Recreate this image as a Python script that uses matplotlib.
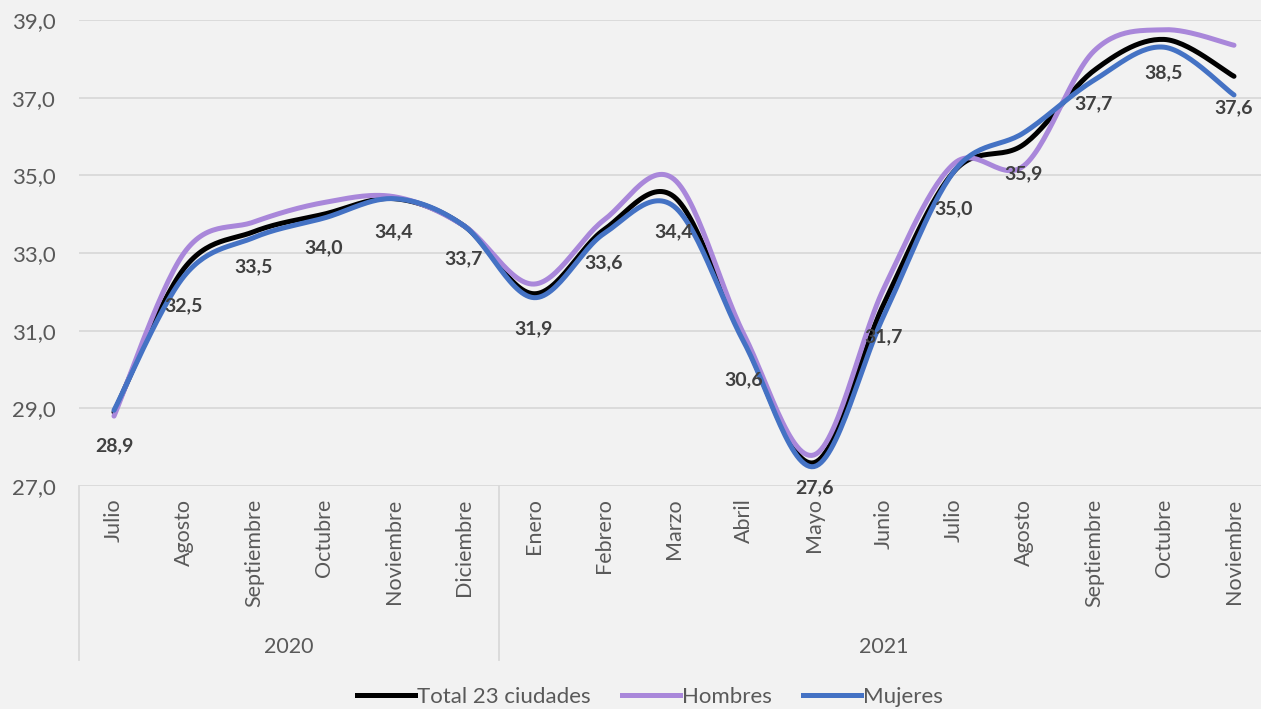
import numpy as np
import matplotlib
matplotlib.use("Agg")
import matplotlib.pyplot as plt
from matplotlib.lines import Line2D

months = ["Julio", "Agosto", "Septiembre", "Octubre", "Noviembre", "Diciembre",
          "Enero", "Febrero", "Marzo", "Abril", "Mayo", "Junio", "Julio",
          "Agosto", "Septiembre", "Octubre", "Noviembre"]
years = ["2020", "2021"]
year_sizes = [6, 11]

total = [28.9, 32.5, 33.5, 34.0, 34.4, 33.7, 31.9, 33.6, 34.4, 30.6, 27.6,
         31.7, 35.0, 35.9, 37.7, 38.5, 37.6]
total_line = [28.9, 32.6, 33.55, 34.0, 34.4, 33.7, 31.95, 33.6, 34.45, 30.75, 27.6,
              31.7, 35.1, 35.8, 37.7, 38.5, 37.55]
hombres = [28.8, 33.0, 33.8, 34.3, 34.45, 33.7, 32.2, 33.85, 34.9, 30.9, 27.8,
           32.1, 35.3, 35.25, 38.2, 38.75, 38.35]
mujeres = [28.95, 32.4, 33.4, 33.9, 34.4, 33.7, 31.85, 33.5, 34.2, 30.7, 27.5,
           31.4, 35.1, 36.1, 37.45, 38.3, 37.07]

GRAY = "#595959"
BG = "#F2F2F2"
FONT = ["Lato", "DejaVu Sans"]


def smooth(y, n=30):
    # bezier curve through points, similar to Excel "smoothed line"
    x = np.arange(len(y), dtype=float)
    p = np.column_stack([x, np.asarray(y, dtype=float)])
    pts = np.vstack([p[0], p, p[-1]])
    out = []
    t = np.linspace(0, 1, n)[:, None]
    for i in range(len(p) - 1):
        p0, p1, p2, p3 = pts[i], pts[i + 1], pts[i + 2], pts[i + 3]
        c1 = p1 + (p2 - p0) / 6
        c2 = p2 - (p3 - p1) / 6
        seg = ((1 - t) ** 3) * p1 + 3 * ((1 - t) ** 2) * t * c1 + 3 * (1 - t) * t ** 2 * c2 + t ** 3 * p2
        out.append(seg if i == 0 else seg[1:])
    s = np.vstack(out)
    return s[:, 0], s[:, 1]


fig = plt.figure(figsize=(12.61, 7.09), dpi=100, facecolor=BG)
W, H = 1261, 709
left, right, top, bottom = 79, 1269, 20, 486
ax = fig.add_axes([left / W, 1 - bottom / H, (right - left) / W, (bottom - top) / H])
ax.set_facecolor(BG)

series = [(total_line, "#000000", "Total 23 ciudades"),
          (hombres, "#A987DA", "Hombres"),
          (mujeres, "#4472C4", "Mujeres")]
for vals, col, name in series:
    sx, sy = smooth(vals)
    ax.plot(sx, sy, color=col, lw=3.6, solid_capstyle="round", clip_on=False, zorder=3)

x = np.arange(len(months))
label_offsets = {10: -18}
for i, v in enumerate(total):
    off = label_offsets.get(i, -24)
    ax.annotate(f"{v:.1f}".replace(".", ","), (i, v), xytext=(0, off),
                textcoords="offset points", ha="center", va="center",
                fontsize=14, fontweight="bold", color="#404040", family=FONT, zorder=5)

ax.set_xlim(-0.5, len(months) - 0.5)
ax.set_ylim(27, 39)
ax.set_yticks(np.arange(27, 39.1, 2))
ax.set_yticklabels([f"{v:.1f}".replace(".", ",") for v in np.arange(27, 39.1, 2)],
                   fontsize=16, color=GRAY, family=FONT)
ax.grid(axis="y", color="#D9D9D9", lw=1.3)
ax.set_axisbelow(True)
for s in ax.spines.values():
    s.set_visible(False)
ax.tick_params(axis="y", length=0, pad=17)
ax.set_xticks(x)
ax.set_xticklabels(months, rotation=90, fontsize=15.5, color=GRAY, family=FONT)
ax.tick_params(axis="x", length=0, pad=9)

# year groups and separators below the axis
sep_bottom = (660 - 486) / (bottom - top)
start = 0
bounds = [0]
for yr, n in zip(years, year_sizes):
    ax.text(start + (n - 1) / 2, -(647 - 486) / (bottom - top), yr,
            transform=ax.get_xaxis_transform(), ha="center", va="center",
            fontsize=15.5, color=GRAY, family=FONT)
    start += n
    bounds.append(start)
for b in bounds:
    ax.plot([b - 0.5, b - 0.5], [0, -sep_bottom], transform=ax.get_xaxis_transform(),
            color="#D9D9D9", lw=1.3, clip_on=False)

handles = [Line2D([], [], color=c, lw=3.6) for _, c, _ in series]
leg = fig.legend(handles, [n for _, _, n in series], loc="center",
                 bbox_to_anchor=(650 / W, 1 - 697 / H), ncol=3, frameon=False,
                 handlelength=2.6, handletextpad=0.1, columnspacing=1.4,
                 prop={"family": FONT, "size": 16})
for t in leg.get_texts():
    t.set_color(GRAY)

fig.savefig("out.png", dpi=100, facecolor=BG)
